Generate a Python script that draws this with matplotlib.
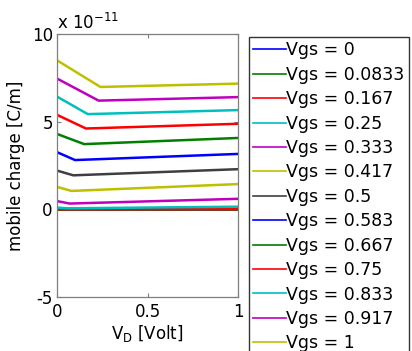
import matplotlib
matplotlib.use("Agg")
import matplotlib.pyplot as plt

plt.rcParams['font.family'] = ['DejaVu Sans']

# Gate voltages (legend)
vgs_labels = ["0", "0.0833", "0.167", "0.25", "0.333", "0.417", "0.5",
              "0.583", "0.667", "0.75", "0.833", "0.917", "1"]
# Mobile charge in units of 1e-11 C/m: value at VD=0, knee point, value at VD=1
q_start = [0.0, 0.0, 0.0, 0.10, 0.47, 1.28, 2.21, 3.26, 4.30, 5.39, 6.43, 7.46, 8.50]
vd_knee = [0.30, 0.30, 0.30, 0.06, 0.07, 0.08, 0.09, 0.10, 0.15, 0.16, 0.17, 0.23, 0.24]
q_knee = [0.0, 0.0, 0.0, 0.06, 0.33, 1.05, 1.94, 2.81, 3.72, 4.61, 5.43, 6.20, 6.98]
q_end = [0.0, 0.0, 0.01, 0.15, 0.60, 1.44, 2.29, 3.16, 4.07, 4.88, 5.66, 6.40, 7.17]

colors = ["#0000ff", "#007f00", "#ff0000", "#00bfbf", "#bf00bf", "#bfbf00", "#3f3f3f"]

fig = plt.figure(figsize=(4.12, 3.51), dpi=100)
ax = fig.add_axes([57/412, 1 - 297/351, 181/412, 263/351])

lines = []
for i, lab in enumerate(vgs_labels):
    xs = [0.0, vd_knee[i], 1.0]
    ys = [q_start[i], q_knee[i], q_end[i]]
    ln, = ax.plot(xs, ys, color=colors[i % len(colors)], lw=1.8,
                  label="Vgs = " + lab)
    lines.append(ln)

ax.set_xlim(0, 1)
ax.set_ylim(-5, 10)
ax.set_xticks([0, 0.5, 1])
ax.set_xticklabels(["0", "0.5", "1"])
ax.set_yticks([-5, 0, 5, 10])
ax.set_yticklabels(["-5", "0", "5", "10"])
ax.tick_params(direction='in', length=3, width=0.8, labelsize=12,
               top=True, right=True, colors='#7f7f7f', labelcolor='black', pad=3)
ax.tick_params(axis='x', pad=4)
for s in ax.spines.values():
    s.set_color('#7f7f7f')
    s.set_linewidth(0.9)

ax.set_ylabel("mobile charge [C/m]", fontsize=12, labelpad=5)
ax.set_xlabel("V$_\\mathregular{D}$ [Volt]", fontsize=12, labelpad=2)
ax.text(0.0, 1.005, "x 10$^{\\mathregular{-11}}$", transform=ax.transAxes,
        fontsize=12, ha='left', va='bottom')

leg = fig.legend(handles=lines, loc='upper left',
                 bbox_to_anchor=(249/412, 1 - 37/351), fontsize=12.5,
                 frameon=True, fancybox=False, borderaxespad=0,
                 handlelength=1.9, handletextpad=0.0, labelspacing=0.37,
                 borderpad=0.25)
leg.get_frame().set_edgecolor('black')
leg.get_frame().set_linewidth(1.0)
for h in leg.get_lines():
    h.set_linewidth(1.2)

fig.savefig("out.png", dpi=100)
